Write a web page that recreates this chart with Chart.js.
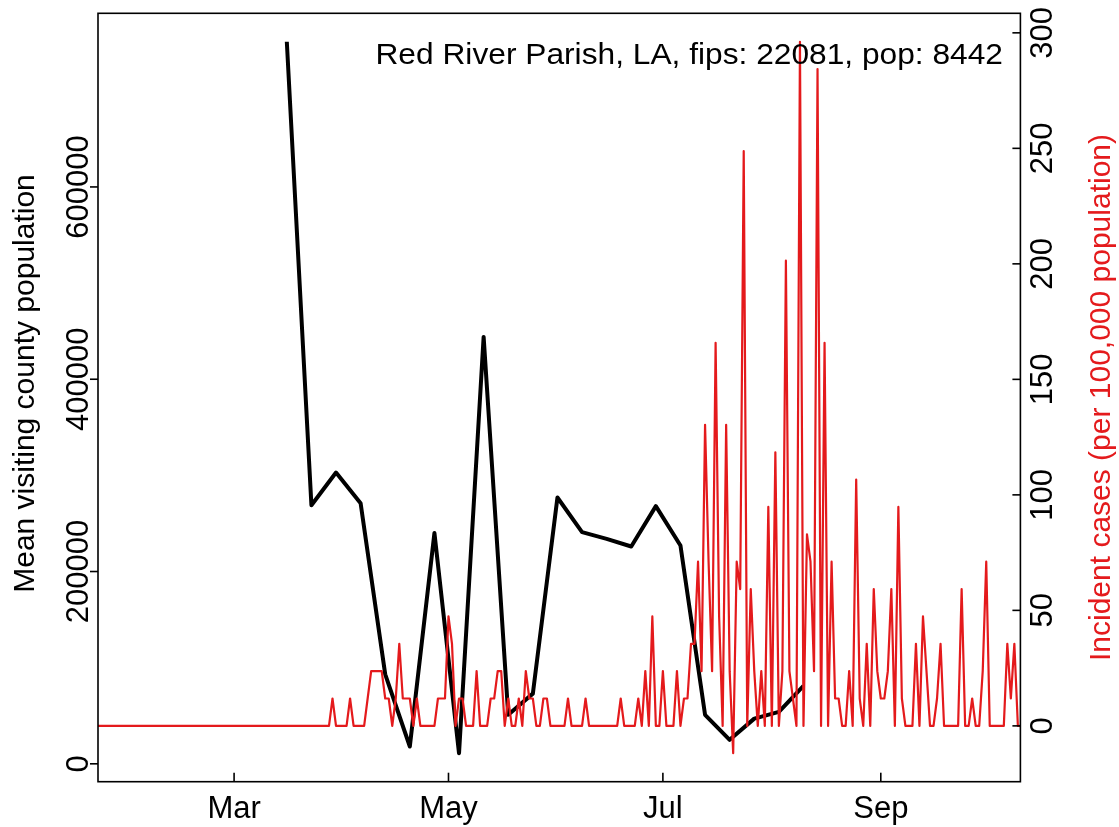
<!DOCTYPE html>
<html>
<head>
<meta charset="utf-8">
<script src="https://cdn.jsdelivr.net/npm/chart.js@4.4.1/dist/chart.umd.min.js"></script>
<style>
  html, body { margin: 0; padding: 0; background: #ffffff; }
  #wrap { width: 1119px; height: 827px; }
</style>
</head>
<body>
<div id="wrap"><canvas id="c" width="1119" height="827"></canvas></div>
<script>
// ---------------- data ----------------
const titleText = "Red River Parish, LA, fips: 22081, pop: 8442";
const population = 8442;

// weekly mean visiting county population (black line)
const mobilityDates = ["2020-03-16","2020-03-23","2020-03-30","2020-04-06","2020-04-13","2020-04-20",
  "2020-04-27","2020-05-04","2020-05-11","2020-05-18","2020-05-25","2020-06-01","2020-06-08",
  "2020-06-15","2020-06-22","2020-06-29","2020-07-06","2020-07-13","2020-07-20","2020-07-27",
  "2020-08-03","2020-08-10"];
const mobilityValues = [751000, 269000, 303000, 271000, 93000, 18000,
  240000, 11000, 444000, 51000, 73000, 277000, 241000,
  234000, 226000, 268000, 227000, 51000, 25000, 47000,
  54000, 81000];

// daily new cases (counts), starting 2020-01-22
const casesStart = "2020-01-22";
const dailyCases = [
  0,0,0,0,0,0,0,0,0,0,  0,0,0,0,0,0,0,0,0,0,
  0,0,0,0,0,0,0,0,0,0,  0,0,0,0,0,0,0,0,0,0,
  0,0,0,0,0,0,0,0,0,0,  0,0,0,0,0,0,0,0,0,0,
  0,0,0,0,0,0,0,
  1,0,0,0,0,1,0,0,0,0,
  1,2,2,2,2,1,1,0,1,3,
  1,1,1,0,1,0,0,0,0,0,
  1,1,1,4,3,0,1,1,0,0,
  0,2,0,0,0,1,1,2,2,0,
  1,0,0,1,0,2,1,1,0,0,
  1,1,0,0,0,0,0,1,0,0,
  0,0,1,0,0,0,0,0,0,0,
  0,0,1,0,0,0,0,1,0,2,
  0,4,0,0,2,0,0,0,2,0,
  1,1,3,3,6,2,11,6,2,14,
  4,0,11,2,-1,6,5,21,0,5,
  2,0,2,0,8,0,10,0,2,17,
  2,1,0,25,0,7,6,2,24,0,
  14,0,6,1,1,0,0,2,0,9,
  1,0,3,0,5,2,1,1,2,5,
  0,8,1,0,0,0,3,0,4,2,
  0,0,1,3,0,0,0,0,0,5,
  0,0,1,0,0,2,6,0,0,0,
  0,0,3,1,3,0,0
];

// axis ticks
const xTickDates = ["2020-03-01","2020-05-01","2020-07-01","2020-09-01"];
const xTickLabels = ["Mar","May","Jul","Sep"];
const leftTicks = [0, 200000, 400000, 600000];
const rightTicks = [0, 50, 100, 150, 200, 250, 300];
const xLimDates = ["2020-02-01","2020-10-01"];

const leftTitle = "Mean visiting county population";
const rightTitle = "Incident cases (per 100,000 population)";

// ---------------- helpers ----------------
const DAY = 86400000;
const ORIGIN = Date.UTC(2020, 2, 1);
function dayNum(s) {
  const p = s.split("-").map(Number);
  return (Date.UTC(p[0], p[1]-1, p[2]) - ORIGIN) / DAY;
}
const startDay = dayNum(casesStart);
const casePoints = dailyCases.map((v, i) => ({ x: startDay + i, y: v * 100000 / population }));
const mobPoints = mobilityDates.map((d, i) => ({ x: dayNum(d), y: mobilityValues[i] }));

// R-style 4% axis extension
function rExt(a, b) { const p = (b - a) * 0.04; return [a - p, b + p]; }
const xr = rExt(dayNum(xLimDates[0]), dayNum(xLimDates[1]));
const incVals = casePoints.map(p => p.y);
const yr2 = rExt(Math.min(...incVals), Math.max(...incVals));
const yr1 = rExt(Math.min(...mobilityValues), Math.max(...mobilityValues));

const RED = "#E41A1C";
const FONT = "'Liberation Sans', Arial, Helvetica, sans-serif";

const decor = {
  id: "decor",
  afterDraw(chart) {
    const ctx = chart.ctx;
    const a = chart.chartArea;
    const sx = chart.scales.x, sy = chart.scales.y, sy2 = chart.scales.y2;
    ctx.save();
    ctx.strokeStyle = "#000";
    ctx.lineWidth = 1.6;
    ctx.strokeRect(a.left, a.top, a.right - a.left, a.bottom - a.top);

    // bottom axis (ticks point inward)
    ctx.fillStyle = "#000";
    ctx.font = "31px " + FONT;
    ctx.textAlign = "center";
    ctx.textBaseline = "alphabetic";
    xTickDates.forEach((d, i) => {
      const px = sx.getPixelForValue(dayNum(d));
      ctx.beginPath(); ctx.moveTo(px, a.bottom); ctx.lineTo(px, a.bottom - 9); ctx.stroke();
      ctx.fillText(xTickLabels[i], px, 818);
    });

    // left axis (ticks outward, labels rotated)
    leftTicks.forEach(v => {
      const py = sy.getPixelForValue(v);
      ctx.beginPath(); ctx.moveTo(a.left, py); ctx.lineTo(a.left - 8, py); ctx.stroke();
      ctx.save();
      ctx.translate(88, py); ctx.rotate(-Math.PI / 2);
      ctx.fillText(String(v), 0, 0);
      ctx.restore();
    });

    // right axis (ticks inward, labels rotated)
    rightTicks.forEach(v => {
      const py = sy2.getPixelForValue(v);
      ctx.beginPath(); ctx.moveTo(a.right, py); ctx.lineTo(a.right - 8, py); ctx.stroke();
      ctx.save();
      ctx.translate(1052, py); ctx.rotate(-Math.PI / 2);
      ctx.fillText(String(v), 0, 0);
      ctx.restore();
    });

    const midY = (a.top + a.bottom) / 2;
    ctx.font = "30px " + FONT;
    ctx.save();
    ctx.translate(34, midY - 14); ctx.rotate(-Math.PI / 2);
    ctx.fillText(leftTitle, 0, 0);
    ctx.restore();

    ctx.fillStyle = RED;
    ctx.save();
    ctx.translate(1110, midY); ctx.rotate(-Math.PI / 2);
    ctx.fillText(rightTitle, 0, 0);
    ctx.restore();

    ctx.fillStyle = "#000";
    ctx.textAlign = "right";
    ctx.font = "30px " + FONT;
    ctx.save();
    ctx.translate(1003, 64); ctx.scale(1.057, 1);
    ctx.fillText(titleText, 0, 0);
    ctx.restore();
    ctx.restore();
  }
};

new Chart(document.getElementById("c"), {
  type: "line",
  data: {
    datasets: [
      { label: "incident", data: casePoints, yAxisID: "y2", borderColor: RED, borderWidth: 2.2,
        pointRadius: 0, tension: 0, borderJoinStyle: "round", clip: 0, order: 0 },
      { label: "mobility", data: mobPoints, yAxisID: "y", borderColor: "#000", borderWidth: 4,
        pointRadius: 0, tension: 0, borderJoinStyle: "round", borderCapStyle: "butt", clip: 0, order: 1 }
    ]
  },
  options: {
    responsive: false,
    animation: false,
    devicePixelRatio: 1,
    layout: { padding: { left: 98, right: 98.6, top: 13.3, bottom: 45.3 } },
    plugins: { legend: { display: false }, tooltip: { enabled: false } },
    scales: {
      x: { type: "linear", min: xr[0], max: xr[1], display: false },
      y: { type: "linear", min: yr1[0], max: yr1[1], display: false },
      y2: { type: "linear", min: yr2[0], max: yr2[1], display: false, position: "right" }
    }
  },
  plugins: [decor]
});
</script>
</body>
</html>
